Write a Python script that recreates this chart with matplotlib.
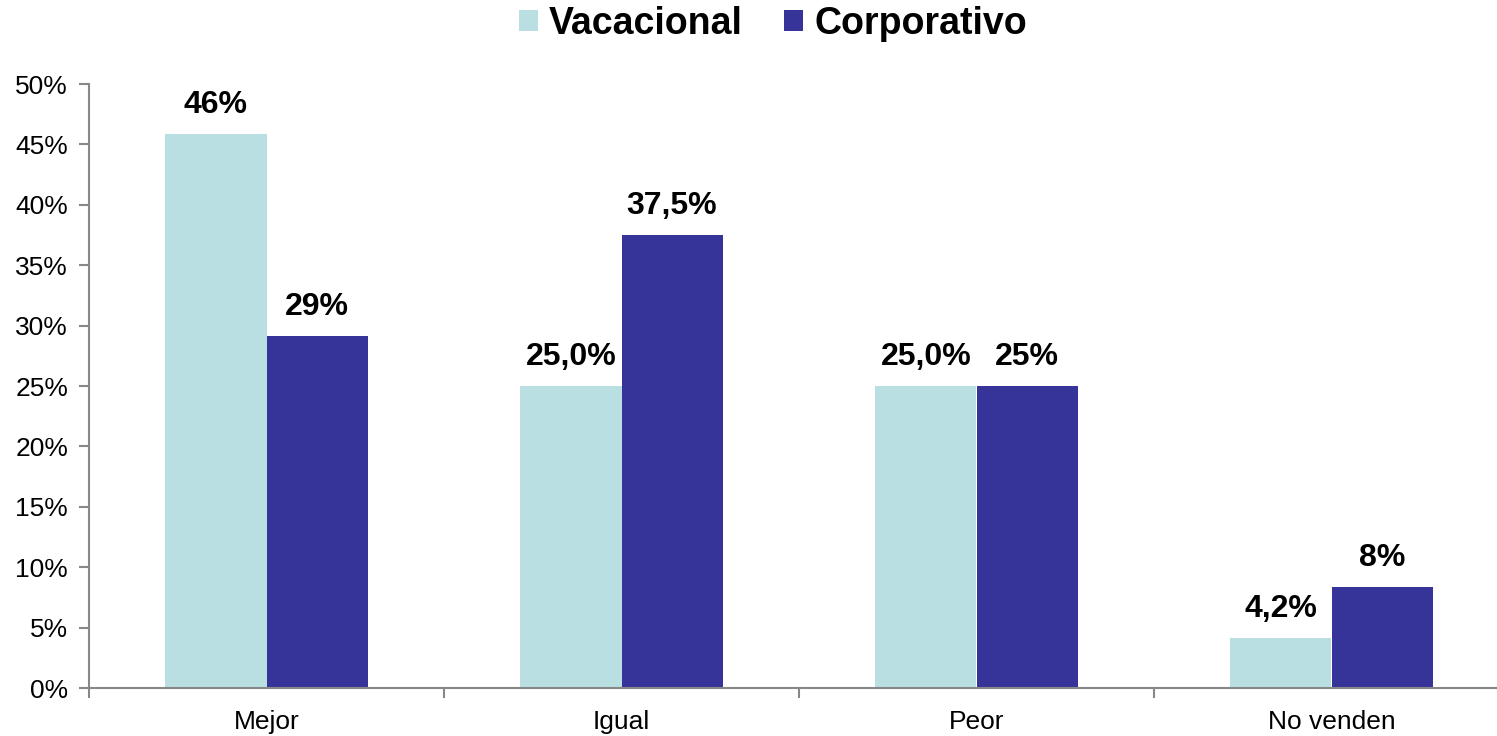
import matplotlib.pyplot as plt
import numpy as np

plt.rcParams['font.family'] = ['Liberation Sans', 'DejaVu Sans']

categorias = ['Mejor', 'Igual', 'Peor', 'No venden']
vacacional = [45.83, 25.0, 25.0, 4.17]
corporativo = [29.17, 37.5, 25.0, 8.33]
etiq_vac = ['46%', '25,0%', '25,0%', '4,2%']
etiq_corp = ['29%', '37,5%', '25%', '8%']
yticks = [0, 5, 10, 15, 20, 25, 30, 35, 40, 45, 50]

fig = plt.figure(figsize=(14.97, 7.36), dpi=100)
ax = fig.add_axes([89/1497, 1-688/736, 1420/1497, (688-84)/736])

x = np.arange(len(categorias))
w = 0.285
b1 = ax.bar(x - w/2, vacacional, w, color='#B9DFE2', label='Vacacional')
b2 = ax.bar(x + w/2, corporativo, w, color='#363399', label='Corporativo')

for bars, labs in ((b1, etiq_vac), (b2, etiq_corp)):
    for r, t in zip(bars, labs):
        ax.annotate(t, (r.get_x() + r.get_width()/2, r.get_height()),
                    xytext=(0, 10), textcoords='offset points',
                    ha='center', va='bottom', fontsize=23, fontweight='bold')

ax.set_xlim(-0.5, len(categorias) - 0.5)
ax.set_ylim(0, 50)
ax.set_yticks(yticks)
ax.set_yticklabels([f'{v}%' for v in yticks], fontsize=19)
ax.set_xticks(x)
ax.set_xticklabels(categorias, fontsize=19)
ax.tick_params(axis='x', length=0, pad=16)
ax.set_xticks(np.arange(len(categorias) + 1) - 0.5, minor=True)
ax.tick_params(axis='x', which='minor', length=7, color='#888888', width=1.5)
ax.tick_params(axis='y', length=7, color='#888888', width=1.5, pad=8)

for s in ['top', 'right']:
    ax.spines[s].set_visible(False)
for s in ['left', 'bottom']:
    ax.spines[s].set_color('#888888')
    ax.spines[s].set_linewidth(1.5)

fig.legend(handles=[b1, b2], loc='center', bbox_to_anchor=(773/1497, 1-24/736),
           ncol=2, frameon=False, prop={'size': 27, 'weight': 'bold'},
           handlelength=0.5, handleheight=0.5, handletextpad=0.3, columnspacing=1.1)

fig.savefig('out.png', dpi=100)
